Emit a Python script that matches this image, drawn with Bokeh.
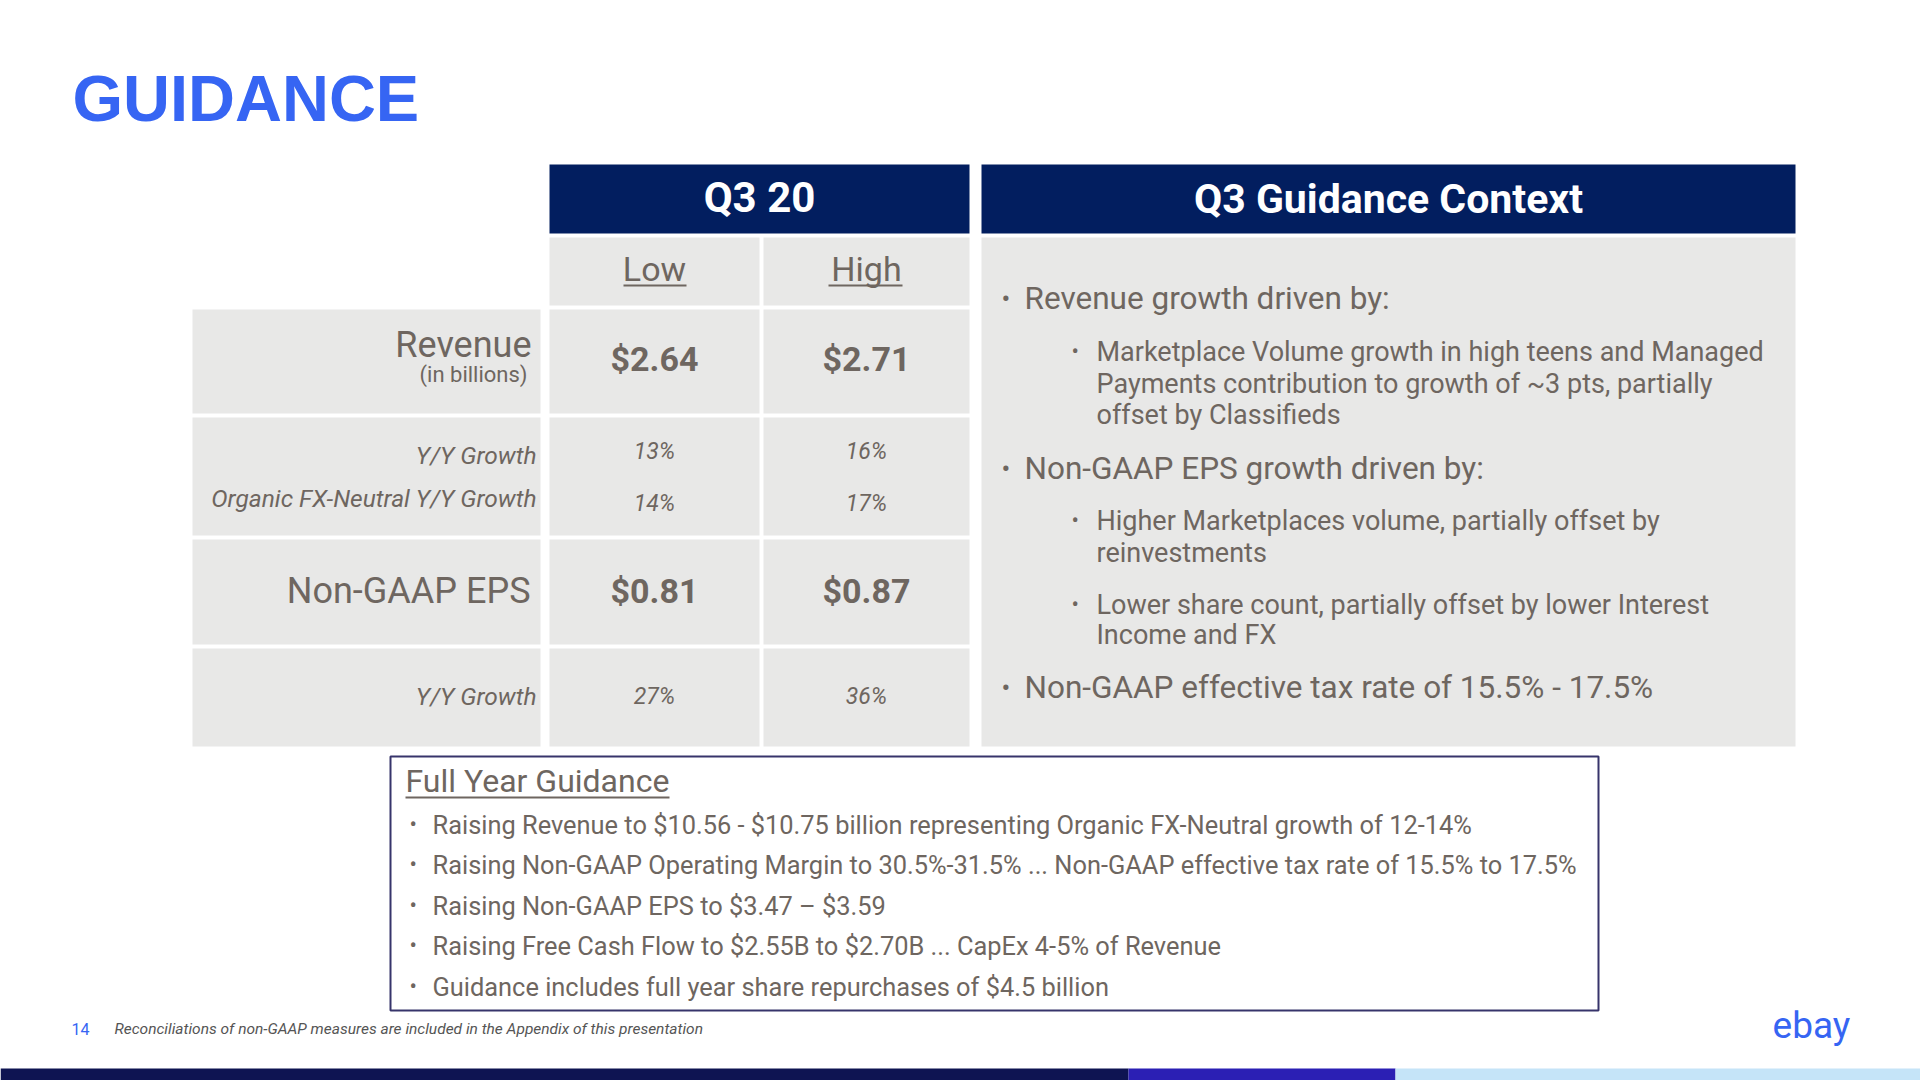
from bokeh.plotting import figure
from bokeh.models import Range1d
from bokeh.core.properties import value
from bokeh.embed import file_html
from bokeh.resources import INLINE

# ---------------- data ----------------
title = "GUIDANCE"
period = "Q3 20"
columns = ["Low", "High"]
revenue = ["$2.64", "$2.71"]
rev_yy_growth = ["13%", "16%"]
rev_organic_growth = ["14%", "17%"]
eps = ["$0.81", "$0.87"]
eps_yy_growth = ["27%", "36%"]
row_labels = ["Revenue", "(in billions)", "Y/Y Growth", "Organic FX-Neutral Y/Y Growth",
              "Non-GAAP EPS", "Y/Y Growth"]
context_title = "Q3 Guidance Context"
context_main = ["Revenue growth driven by:",
                "Non-GAAP EPS growth driven by:",
                "Non-GAAP effective tax rate of 15.5% - 17.5%"]
context_sub = [["Marketplace Volume growth in high teens and Managed",
                "Payments contribution to growth of ~3 pts, partially",
                "offset by Classifieds"],
               ["Higher Marketplaces volume, partially offset by",
                "reinvestments"],
               ["Lower share count, partially offset by lower Interest",
                "Income and FX"]]
full_year_title = "Full Year Guidance"
full_year = ["Raising Revenue to $10.56 - $10.75 billion representing Organic FX-Neutral growth of 12-14%",
             "Raising Non-GAAP Operating Margin to 30.5%-31.5% ... Non-GAAP effective tax rate of 15.5% to 17.5%",
             "Raising Non-GAAP EPS to $3.47 \u2013 $3.59",
             "Raising Free Cash Flow to $2.55B to $2.70B ... CapEx 4-5% of Revenue",
             "Guidance includes full year share repurchases of $4.5 billion"]
page_number = "14"
footnote = "Reconciliations of non-GAAP  measures are included in the Appendix of this presentation"
logo = "ebay"

# ---------------- style ----------------
NAVY = "#021e5f"
CELL = "#e8e8e7"
TXT = "#6e6660"
BLUE = "#3665f3"
BOX = "#37346b"
FONT = "Roboto"

W, H = 1920, 1080
p = figure(width=W, height=H, x_range=Range1d(0, W), y_range=Range1d(H, 0),
           output_backend="svg", toolbar_location=None, min_border=0)
p.axis.visible = False
p.grid.visible = False
p.outline_line_color = None
p.background_fill_color = "white"
p.border_fill_color = "white"


def txt(x, y, s, size, color=TXT, align="left", style="normal", font=FONT):
    p.text(x=[x], y=[y], text=[s], text_font=value(font), text_font_size=f"{size}px",
           text_color=color, text_align=align, text_baseline="middle", text_font_style=style)


# title
txt(72, 98, title, 65, BLUE, style="bold", font="Liberation Sans")

# table geometry
label_col = (192, 540)
val_cols = [(549, 759), (763, 969)]
rows = {"head": (164, 233), "lh": (237, 305), "rev": (309, 413), "gr": (417, 535),
        "eps": (539, 644), "eg": (648, 746)}

# header
p.quad(left=[val_cols[0][0]], right=[val_cols[1][1]], top=[rows["head"][0]], bottom=[rows["head"][1]],
       fill_color=NAVY, line_color=None)
txt((val_cols[0][0] + val_cols[1][1]) / 2, 197, period, 42, "white", "center", "bold")

# cells
ls, rs, ts, bs = [], [], [], []
for key in ["lh", "rev", "gr", "eps", "eg"]:
    for c in val_cols:
        ls.append(c[0]); rs.append(c[1]); ts.append(rows[key][0]); bs.append(rows[key][1])
    if key != "lh":
        ls.append(label_col[0]); rs.append(label_col[1]); ts.append(rows[key][0]); bs.append(rows[key][1])
p.quad(left=ls, right=rs, top=ts, bottom=bs, fill_color=CELL, line_color=None)

centers = [(c[0] + c[1]) / 2 for c in val_cols]
ul = [(623, 686), (828, 902)]
for i, c in enumerate(centers):
    txt(c, 268, columns[i], 34, align="center")
    p.segment(x0=[ul[i][0]], x1=[ul[i][1]], y0=[285], y1=[285], line_color=TXT, line_width=2)
    txt(c, 358, revenue[i], 34, align="center", style="bold")
    txt(c, 451, rev_yy_growth[i], 23, align="center", style="italic")
    txt(c, 503, rev_organic_growth[i], 23, align="center", style="italic")
    txt(c, 590, eps[i], 34, align="center", style="bold")
    txt(c, 696, eps_yy_growth[i], 23, align="center", style="italic")

txt(531, 344, row_labels[0], 36, align="right")
txt(527, 374, row_labels[1], 22, align="right")
txt(536, 455, row_labels[2], 24.5, align="right", style="italic")
txt(536, 498, row_labels[3], 24.5, align="right", style="italic")
txt(530, 590, row_labels[4], 36, align="right")
txt(536, 696, row_labels[5], 24.5, align="right", style="italic")

# context panel
p.quad(left=[981], right=[1795], top=[164], bottom=[233], fill_color=NAVY, line_color=None)
p.quad(left=[981], right=[1795], top=[237], bottom=[746], fill_color=CELL, line_color=None)
txt(1388, 198, context_title, 41, "white", "center", "bold")

main_y = [298, 468, 687]
sub_y = [[351, 383, 414], [520, 552], [604, 634]]
for i, s in enumerate(context_main):
    txt(1001, main_y[i], "\u2022", 26)
    txt(1024, main_y[i], s, 31.5)
for grp, ys in zip(context_sub, sub_y):
    txt(1071, ys[0], "\u2022", 22)
    for s, y in zip(grp, ys):
        txt(1096, y, s, 27)

# full year box
p.quad(left=[390], right=[1598], top=[756], bottom=[1010], fill_color=None, line_color=BOX, line_width=2)
txt(405, 780, full_year_title, 32)
p.segment(x0=[405], x1=[669], y0=[797], y1=[797], line_color=TXT, line_width=2)
fy_y = [824, 864, 905, 945, 986]
for s, y in zip(full_year, fy_y):
    txt(409, y, "\u2022", 22)
    txt(432, y, s, 25.4)

# footer
txt(71, 1028, page_number, 16, BLUE)
txt(114, 1028, footnote, 15.5, "#555555", style="italic")
txt(1811, 1025, logo, 37, BLUE, "center")

# bottom bar
p.quad(left=[0, 1128, 1395], right=[1128, 1395, 1920], top=[1068] * 3, bottom=[1080] * 3,
       fill_color=["#0e1452", "#2b1fb4", "#c5e4f8"], line_color=None)

open("out.html", "w").write(file_html(p, INLINE))
